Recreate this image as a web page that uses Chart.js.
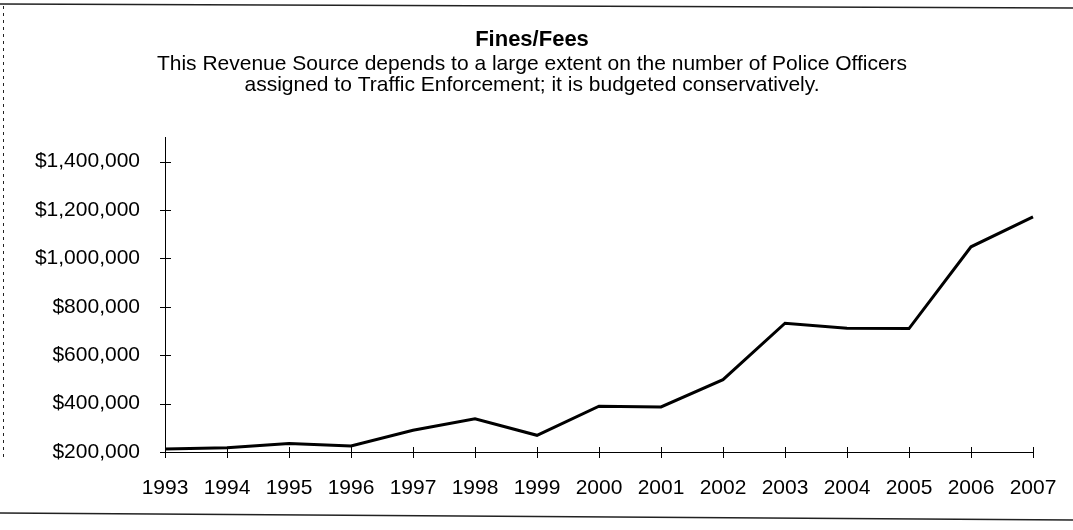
<!DOCTYPE html>
<html>
<head>
<meta charset="utf-8">
<title>Fines/Fees</title>
<script src="https://cdn.jsdelivr.net/npm/chart.js@4/dist/chart.umd.min.js"></script>
<style>
  html, body { margin: 0; padding: 0; background: #fff; }
  #wrap { position: relative; width: 1073px; height: 530px; }
</style>
</head>
<body>
<div id="wrap"><canvas id="fines"></canvas></div>
<script>
const YEARS = ['1993', '1994', '1995', '1996', '1997', '1998', '1999', '2000',
  '2001', '2002', '2003', '2004', '2005', '2006', '2007']
const FINES_FEES = [212000, 218000, 235000, 225000, 290000, 337000, 269000, 389000,
  386000, 499000, 732000, 711000, 710000, 1048000, 1172000]
const Y_TICKS = [200000, 400000, 600000, 800000, 1000000, 1200000, 1400000]
const TITLE = 'Fines/Fees'
const SUBTITLE = [
  'This Revenue Source depends to a large extent on the number of Police Officers',
  'assigned to Traffic Enforcement; it is budgeted conservatively.',
]
const Y_MIN = 200000
const Y_MAX = 1500000

const FONT = "'Liberation Sans', Arial, sans-serif"
const INK = '#000'

// small crossing tick marks on both axes, like the old spreadsheet chart
const crossTicks = {
  id: 'crossTicks',
  afterDatasetsDraw(chart) {
    const { ctx, chartArea, scales } = chart
    const { x, y } = scales
    ctx.save()
    ctx.strokeStyle = INK
    ctx.lineWidth = 1
    ctx.beginPath()
    y.ticks.forEach((t, i) => {
      const py = Math.round(y.getPixelForTick(i)) + 0.5
      ctx.moveTo(chartArea.left - 5, py)
      ctx.lineTo(chartArea.left + 6, py)
    })
    x.ticks.forEach((t, i) => {
      const px = Math.round(x.getPixelForTick(i)) + 0.5
      ctx.moveTo(px, chartArea.bottom - 5)
      ctx.lineTo(px, chartArea.bottom + 6)
    })
    ctx.stroke()
    ctx.restore()
  },
}

// page frame around the chart: rule on top and bottom, dotted edge on the left
const pageFrame = {
  id: 'pageFrame',
  beforeDraw(chart) {
    const { ctx, width } = chart
    ctx.save()
    ctx.strokeStyle = '#222'
    ctx.lineWidth = 1.5
    ctx.beginPath()
    ctx.moveTo(0, 4)
    ctx.lineTo(width, 8)
    ctx.moveTo(0, 513)
    ctx.lineTo(width, 520)
    ctx.stroke()
    ctx.lineWidth = 1
    ctx.setLineDash([3, 4])
    ctx.beginPath()
    ctx.moveTo(3.5, 6)
    ctx.lineTo(3.5, 460)
    ctx.stroke()
    ctx.restore()
  },
}

const config = {
  type: 'line',
  data: {
    labels: YEARS,
    datasets: [
      {
        label: TITLE,
        data: FINES_FEES,
        borderColor: INK,
        borderWidth: 3,
        pointRadius: 0,
        tension: 0,
        fill: false,
      },
    ],
  },
  options: {
    responsive: true,
    maintainAspectRatio: false,
    devicePixelRatio: 1,
    animation: false,
    layout: {
      padding: { left: 31, right: 40, top: 0, bottom: 0 },
    },
    plugins: {
      legend: { display: false },
      tooltip: { enabled: false },
      title: {
        display: true,
        text: TITLE,
        color: INK,
        font: { family: FONT, size: 22, weight: 'bold', lineHeight: 1.2 },
        padding: { top: 27, bottom: 0 },
      },
      subtitle: {
        display: true,
        text: SUBTITLE,
        color: INK,
        font: { family: FONT, size: 21, lineHeight: 1.0 },
        padding: { top: 0, bottom: 42 },
      },
    },
    scales: {
      x: {
        grid: { display: false },
        border: { display: true, color: INK, width: 1 },
        ticks: {
          color: INK,
          font: { family: FONT, size: 21 },
          padding: 16,
          autoSkip: false,
          maxRotation: 0,
        },
        afterFit(scale) {
          scale.height = 78
        },
      },
      y: {
        min: Y_MIN,
        max: Y_MAX,
        grid: { display: false },
        border: { display: true, color: INK, width: 1 },
        ticks: {
          color: INK,
          font: { family: FONT, size: 21 },
          padding: 17,
          autoSkip: false,
          callback: (v) => '$' + Number(v).toLocaleString('en-US'),
        },
        afterBuildTicks(scale) {
          scale.ticks = Y_TICKS.map((v) => ({ value: v }))
        },
        afterFit(scale) {
          scale.width = 134
        },
      },
    },
  },
  plugins: [pageFrame, crossTicks],
}

new Chart(document.getElementById('fines'), config)
</script>
</body>
</html>
